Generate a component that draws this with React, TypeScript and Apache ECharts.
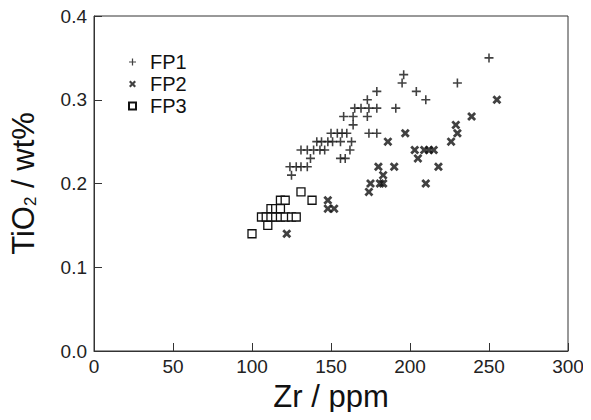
import React, { useEffect, useRef } from "react";
import * as echarts from "echarts";

const fp1: number[][] = [
  [125, 0.21], [124, 0.22], [128, 0.22], [131, 0.22], [135, 0.22], [137, 0.23],
  [131, 0.24], [135, 0.24], [139, 0.24], [143, 0.24], [146, 0.24], [156, 0.23],
  [159, 0.23], [162, 0.24], [141, 0.25], [144, 0.25], [148, 0.25], [151, 0.25],
  [156, 0.25], [163, 0.25], [150, 0.26], [154, 0.26], [157, 0.26], [160, 0.26],
  [174, 0.26], [179, 0.26], [164, 0.27], [158, 0.28], [164, 0.28], [173, 0.28],
  [165, 0.29], [169, 0.29], [174, 0.29], [179, 0.29], [173, 0.3], [179, 0.31],
  [191, 0.29], [195, 0.32], [196, 0.33], [204, 0.31], [210, 0.3], [230, 0.32],
  [250, 0.35],
];
const fp2: number[][] = [
  [122, 0.14], [148, 0.18], [148, 0.17], [152, 0.17], [174, 0.19], [175, 0.2],
  [181, 0.2], [183, 0.2], [183, 0.21], [180, 0.22], [190, 0.22], [186, 0.25],
  [197, 0.26], [203, 0.24], [205, 0.23], [209, 0.24], [212, 0.24], [215, 0.24],
  [210, 0.2], [218, 0.22], [226, 0.25], [229, 0.27], [230, 0.26], [239, 0.28],
  [255, 0.3],
];
const fp3: number[][] = [
  [100, 0.14], [106, 0.16], [109, 0.16], [112, 0.16], [115, 0.16], [118, 0.16],
  [121, 0.16], [125, 0.16], [128, 0.16], [110, 0.15], [112, 0.17], [115, 0.17],
  [118, 0.17], [118, 0.18], [121, 0.18], [131, 0.19], [138, 0.18],
];

const PLUS = "path://M3.3,0H4.7V3.3H8V4.7H4.7V8H3.3V4.7H0V3.3H3.3Z";
const CROSS =
  "path://M0,2.2L2.2,0L5,2.8L7.8,0L10,2.2L7.2,5L10,7.8L7.8,10L5,7.2L2.2,10L0,7.8L2.8,5Z";

const FONT = "'Liberation Sans', Arial, sans-serif";

export default function App() {
  const ref = useRef<HTMLDivElement>(null);
  useEffect(() => {
    if (!ref.current) return;
    const chart = echarts.init(ref.current, null, { renderer: "svg" });
    chart.setOption({
      animation: false,
      textStyle: { fontFamily: FONT },
      grid: {
        left: 89.5,
        right: 23,
        top: 16,
        bottom: 69,
        show: true,
        borderColor: "#333",
        borderWidth: 1,
        backgroundColor: "transparent",
      },
      legend: {
        orient: "vertical",
        left: 123,
        top: 47,
        itemGap: 2,
        itemWidth: 7,
        itemHeight: 7,
        textStyle: { fontSize: 20, color: "#111", fontFamily: FONT, padding: [0, 0, 0, 9] },
        data: ["FP1", "FP2", "FP3"],
      },
      xAxis: {
        type: "value",
        min: 0,
        max: 300,
        interval: 50,
        name: "Zr / ppm",
        nameLocation: "middle",
        nameGap: 30,
        nameTextStyle: { fontSize: 31, color: "#111", fontFamily: FONT },
        axisLine: { show: true, lineStyle: { color: "#333", width: 1 } },
        axisTick: { show: true, inside: true, length: 8, lineStyle: { color: "#333" } },
        axisLabel: { fontSize: 19, color: "#222", margin: 6, fontFamily: FONT },
        splitLine: { show: false },
      },
      yAxis: {
        type: "value",
        min: 0,
        max: 0.4,
        interval: 0.1,
        name: "TiO{sub|2} / wt%",
        nameLocation: "middle",
        nameRotate: 90,
        nameGap: 55,
        nameTextStyle: {
          fontSize: 31,
          color: "#111",
          fontFamily: FONT,
          rich: {
            sub: { fontSize: 17, fontFamily: FONT, color: "#111", padding: [13, 0, 0, 0] },
          },
        },
        axisLine: { show: true, lineStyle: { color: "#333", width: 1 } },
        axisTick: { show: true, inside: true, length: 8, lineStyle: { color: "#333" } },
        axisLabel: {
          fontSize: 19,
          color: "#222",
          margin: 7,
          fontFamily: FONT,
          formatter: (v: number) => v.toFixed(1),
        },
        splitLine: { show: false },
      },
      series: [
        {
          name: "FP1",
          type: "scatter",
          data: fp1,
          symbol: PLUS,
          symbolSize: 9,
          itemStyle: { color: "#111" },
        },
        {
          name: "FP2",
          type: "scatter",
          data: fp2,
          symbol: CROSS,
          symbolSize: 9,
          itemStyle: { color: "#111" },
        },
        {
          name: "FP3",
          type: "scatter",
          data: fp3,
          symbol: "rect",
          symbolSize: 8,
          itemStyle: { color: "#fff", borderColor: "#111", borderWidth: 1.3, opacity: 1 },
        },
      ],
    });
    return () => chart.dispose();
  }, []);
  return <div ref={ref} style={{ width: 591, height: 420, margin: -8 }} />;
}
